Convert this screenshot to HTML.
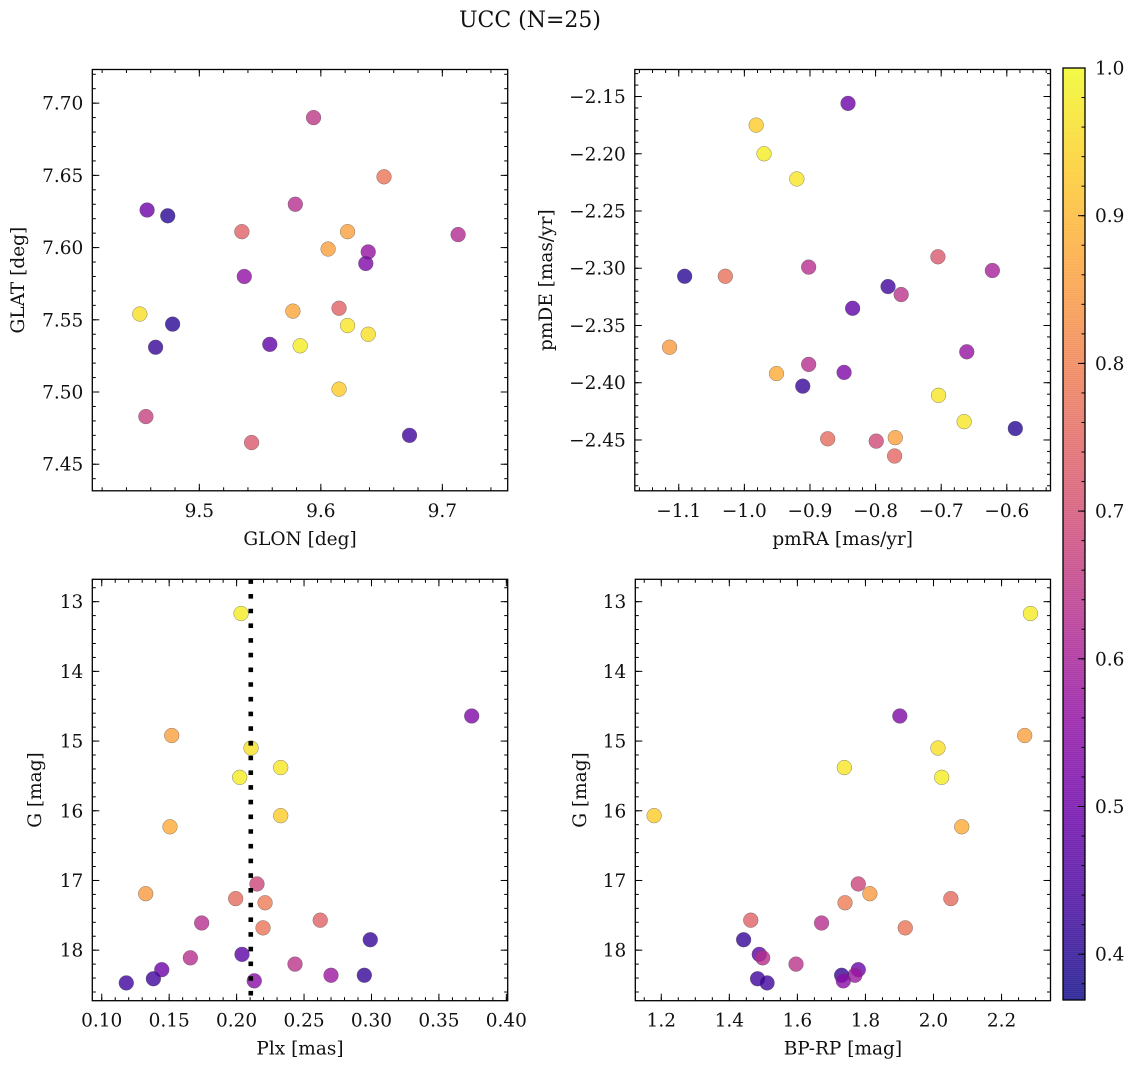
<!DOCTYPE html>
<html><head><meta charset="utf-8"><style>
html,body{margin:0;padding:0;background:#fff;}
svg{display:block;font-family:"DejaVu Serif","Liberation Serif",serif;}
</style></head><body>
<svg id="fig" width="1136" height="1068" viewBox="0 0 1136 1068" xmlns="http://www.w3.org/2000/svg">
<rect width="1136" height="1068" fill="#fff"/>
<text x="530" y="27" text-anchor="middle" font-size="22" fill="#111">UCC (N=25)</text>
</svg>
<script>
// Panel 1: GLON vs GLAT
const p1Glon = [9.594,9.652,9.457,9.474,9.579,9.535,9.622,9.606,9.713,9.639,9.637,9.537,9.615,9.451,9.577,9.478,9.622,9.639,9.558,9.583,9.464,9.615,9.456,9.543,9.673];
const p1Glat = [7.690,7.649,7.626,7.622,7.630,7.611,7.611,7.599,7.609,7.597,7.589,7.580,7.558,7.554,7.556,7.547,7.546,7.540,7.533,7.532,7.531,7.502,7.483,7.465,7.470];
const p1Prob = [0.65,0.78,0.50,0.40,0.63,0.74,0.86,0.86,0.62,0.57,0.53,0.56,0.74,0.96,0.87,0.40,0.97,0.96,0.48,0.98,0.42,0.93,0.67,0.72,0.43];
// Panel 2: pmRA vs pmDE
const p2PmRA = [-0.842,-0.982,-0.970,-0.920,-0.705,-1.091,-1.029,-0.902,-0.622,-0.781,-0.761,-0.835,-1.114,-0.661,-0.902,-0.951,-0.848,-0.911,-0.704,-0.665,-0.587,-0.873,-0.799,-0.770,-0.771];
const p2PmDE = [-2.156,-2.175,-2.200,-2.222,-2.290,-2.307,-2.307,-2.299,-2.302,-2.316,-2.323,-2.335,-2.369,-2.373,-2.384,-2.392,-2.391,-2.403,-2.411,-2.434,-2.440,-2.449,-2.451,-2.448,-2.464];
const p2Prob = [0.50,0.93,0.98,0.97,0.72,0.40,0.77,0.63,0.60,0.43,0.64,0.48,0.85,0.57,0.63,0.88,0.53,0.42,0.97,0.97,0.40,0.76,0.69,0.86,0.75];
// Panels 3 & 4: Plx / BP-RP vs G
const cmdPlx = [0.2033,0.3743,0.1519,0.2107,0.2327,0.2023,0.2327,0.1506,0.2151,0.1326,0.1993,0.2211,0.1741,0.2620,0.2196,0.2991,0.2040,0.1657,0.2433,0.1445,0.1383,0.2700,0.2947,0.2131,0.1182];
const cmdBpRp = [2.285,1.901,2.268,2.013,1.738,2.024,1.179,2.083,1.779,1.813,2.051,1.740,1.671,1.463,1.917,1.442,1.488,1.498,1.596,1.779,1.483,1.769,1.730,1.735,1.511];
const cmdG = [13.17,14.64,14.92,15.10,15.38,15.52,16.07,16.23,17.05,17.19,17.26,17.32,17.61,17.57,17.68,17.85,18.06,18.11,18.20,18.28,18.41,18.36,18.36,18.44,18.47];
const cmdProb = [0.98,0.53,0.86,0.96,0.97,0.98,0.93,0.88,0.68,0.85,0.76,0.79,0.63,0.74,0.78,0.42,0.47,0.63,0.64,0.50,0.43,0.58,0.42,0.55,0.43];
const plxMedian = [0.2105];
const cbTicks = [0.4,0.5,0.6,0.7,0.8,0.9,1.0];
const cbRange = [0.369,1.0];

const NS = "http://www.w3.org/2000/svg";
const svg = document.getElementById('fig');
const TF = 18.5;
function mk(tag, attrs, parent){const e=document.createElementNS(NS,tag);for(const k in attrs)e.setAttribute(k,attrs[k]);(parent||svg).appendChild(e);return e;}

const plasma = ["#0d0887","#41049d","#6a00a8","#8f0da4","#b12a90","#cc4778","#e16462","#f2844b","#fca636","#fcce25","#f0f921"];
function hex(h){return [parseInt(h.slice(1,3),16),parseInt(h.slice(3,5),16),parseInt(h.slice(5,7),16)];}
function cmap(t){t=Math.max(0,Math.min(1,t));const f=t*10,i=Math.min(9,Math.floor(f)),r=f-i;const a=hex(plasma[i]),b=hex(plasma[i+1]);
  const c=a.map((v,k)=>v+(b[k]-v)*r);return 'rgb('+c.map(Math.round).join(',')+')';}
function pcol(p){return cmap((p-cbRange[0])/(cbRange[1]-cbRange[0]));}

function makePanel(o){
  const g=mk('g',{});
  
  
  const sx=v=>o.x0+(v-o.xd[0])/(o.xd[1]-o.xd[0])*(o.x1-o.x0);
  const sy=v=>o.y0+(v-o.yd[0])/(o.yd[1]-o.yd[0])*(o.y1-o.y0);
  o.sx=sx;o.sy=sy;o.g=g;
  const tg=mk('g',{stroke:'#000','stroke-width':1},g);
  const eps=1e-9;
  function ticksX(step,len){const n0=Math.ceil((Math.min(...o.xd)-eps)/step),n1=Math.floor((Math.max(...o.xd)+eps)/step);
    for(let n=n0;n<=n1;n++){const x=sx(n*step);mk('line',{x1:x,x2:x,y1:o.y1,y2:o.y1-len},tg);mk('line',{x1:x,x2:x,y1:o.y0,y2:o.y0+len},tg);}}
  function ticksY(step,len){const lo=Math.min(...o.yd),hi=Math.max(...o.yd);const n0=Math.ceil((lo-eps)/step),n1=Math.floor((hi+eps)/step);
    for(let n=n0;n<=n1;n++){const y=sy(n*step);mk('line',{y1:y,y2:y,x1:o.x0,x2:o.x0+len},tg);mk('line',{y1:y,y2:y,x1:o.x1,x2:o.x1-len},tg);}}
  ticksX(o.xMinor,3.5);ticksX(o.xMajor,7);ticksY(o.yMinor,3.5);ticksY(o.yMajor,7);
  o.xLabels.forEach(v=>{const t=mk('text',{x:sx(v),y:o.y1+26,'text-anchor':'middle','font-size':TF,fill:'#111'},g);
    t.textContent=o.fx(v);});
  o.yLabels.forEach(v=>{const t=mk('text',{x:o.x0-9,y:sy(v)+6.5,'text-anchor':'end','font-size':TF,fill:'#111'},g);
    t.textContent=o.fy(v);});
  const xt=mk('text',{x:(o.x0+o.x1)/2,y:o.y1+54,'text-anchor':'middle','font-size':TF,fill:'#111'},g);
  xt.textContent=o.xTitle;
  const yt=mk('text',{x:0,y:0,'text-anchor':'middle','font-size':TF,fill:'#111',transform:'translate('+o.yTitleX+','+(o.y0+o.y1)/2+') rotate(-90)'},g);
  yt.textContent=o.yTitle;
  return o;
}
function frame(o){const r=mk('rect',{x:o.x0,y:o.y0,width:o.x1-o.x0,height:o.y1-o.y0,fill:'none',stroke:'#000','stroke-width':1.3},o.g);
  }
function scatter(o,xs,ys,ps){
  const pg=mk('g',{},o.g);
  
  xs.forEach((x,i)=>{const c=mk('circle',{cx:o.sx(x),cy:o.sy(ys[i]),r:7.4,fill:pcol(ps[i]),'fill-opacity':0.8,stroke:'#555','stroke-width':0.5,'stroke-opacity':0.7},pg);
    });
}
const rng=(a,b,s)=>{const r=[];for(let v=a;v<=b+1e-9;v+=s)r.push(Math.round(v*1000)/1000);return r;};
const minus=s=>s.replace('-','\u2212');

const P1=makePanel({name:'glon-glat-panel',x0:92.3,x1:507.7,y0:69.5,y1:490.8,xd:[9.4119,9.7538],yd:[7.7233,7.4316],
  xMajor:0.1,xMinor:0.02,yMajor:0.05,yMinor:0.01,xLabels:[9.5,9.6,9.7],yLabels:rng(7.45,7.70,0.05),
  fx:v=>v.toFixed(1),fy:v=>v.toFixed(2),xTitle:'GLON [deg]',yTitle:'GLAT [deg]',yTitleX:24});
scatter(P1,p1Glon,p1Glat,p1Prob);frame(P1);

const P2=makePanel({name:'pmra-pmde-panel',x0:634.8,x1:1050.5,y0:69.5,y1:490.8,xd:[-1.167,-0.5334],yd:[-2.1264,-2.4944],
  xMajor:0.1,xMinor:0.02,yMajor:0.05,yMinor:0.01,xLabels:rng(-1.1,-0.6,0.1),yLabels:rng(-2.45,-2.15,0.05),
  fx:v=>minus(v.toFixed(1)),fy:v=>minus(v.toFixed(2)),xTitle:'pmRA [mas/yr]',yTitle:'pmDE [mas/yr]',yTitleX:552});
scatter(P2,p2PmRA,p2PmDE,p2Prob);frame(P2);

const P3=makePanel({name:'plx-g-panel',x0:92.3,x1:507.7,y0:579.3,y1:1000.7,xd:[0.0930,0.4010],yd:[12.679,18.725],
  xMajor:0.05,xMinor:0.01,yMajor:1,yMinor:0.2,xLabels:rng(0.10,0.40,0.05),yLabels:rng(13,18,1),
  fx:v=>v.toFixed(2),fy:v=>v.toFixed(0),xTitle:'Plx [mas]',yTitle:'G [mag]',yTitleX:41});
scatter(P3,cmdPlx,cmdG,cmdProb);
plxMedian.forEach(v=>{const l=mk('line',{x1:P3.sx(v),x2:P3.sx(v),y1:P3.y0,y2:P3.y1,stroke:'#000','stroke-width':4.6,'stroke-dasharray':'4.6 10.1'},P3.g);
  });
frame(P3);

const P4=makePanel({name:'color-magnitude-panel',x0:635.3,x1:1050.5,y0:579.3,y1:1000.7,xd:[1.1237,2.3438],yd:[12.679,18.725],
  xMajor:0.2,xMinor:0.05,yMajor:1,yMinor:0.2,xLabels:rng(1.2,2.2,0.2),yLabels:rng(13,18,1),
  fx:v=>v.toFixed(1),fy:v=>v.toFixed(0),xTitle:'BP-RP [mag]',yTitle:'G [mag]',yTitleX:586});
scatter(P4,cmdBpRp,cmdG,cmdProb);frame(P4);

const cb=mk('g',{});


const cbx0=1063,cbx1=1085,cby0=68,cby1=1000;
const cy=v=>cby1-(v-cbRange[0])/(cbRange[1]-cbRange[0])*(cby1-cby0);
for(let y=cby0;y<cby1;y+=2){const t=(cby1-y-1)/(cby1-cby0);mk('rect',{x:cbx0,y:y,width:cbx1-cbx0,height:2.3,fill:cmap(t),'fill-opacity':0.8},cb);}
mk('rect',{x:cbx0,y:cby0,width:cbx1-cbx0,height:cby1-cby0,fill:'none',stroke:'#000','stroke-width':1.3},cb);
for(let v=0.38;v<=1.0001;v+=0.02){const y=cy(v);mk('line',{x1:cbx1,x2:cbx1-3.5,y1:y,y2:y,stroke:'#000','stroke-width':1},cb);}
cbTicks.forEach(v=>{const y=cy(v);mk('line',{x1:cbx1,x2:cbx1-7,y1:y,y2:y,stroke:'#000','stroke-width':1},cb);
  const t=mk('text',{x:cbx1+10,y:y+6.5,'font-size':TF,fill:'#111'},cb);
  t.textContent=v.toFixed(1);});
</script>
</body></html>
